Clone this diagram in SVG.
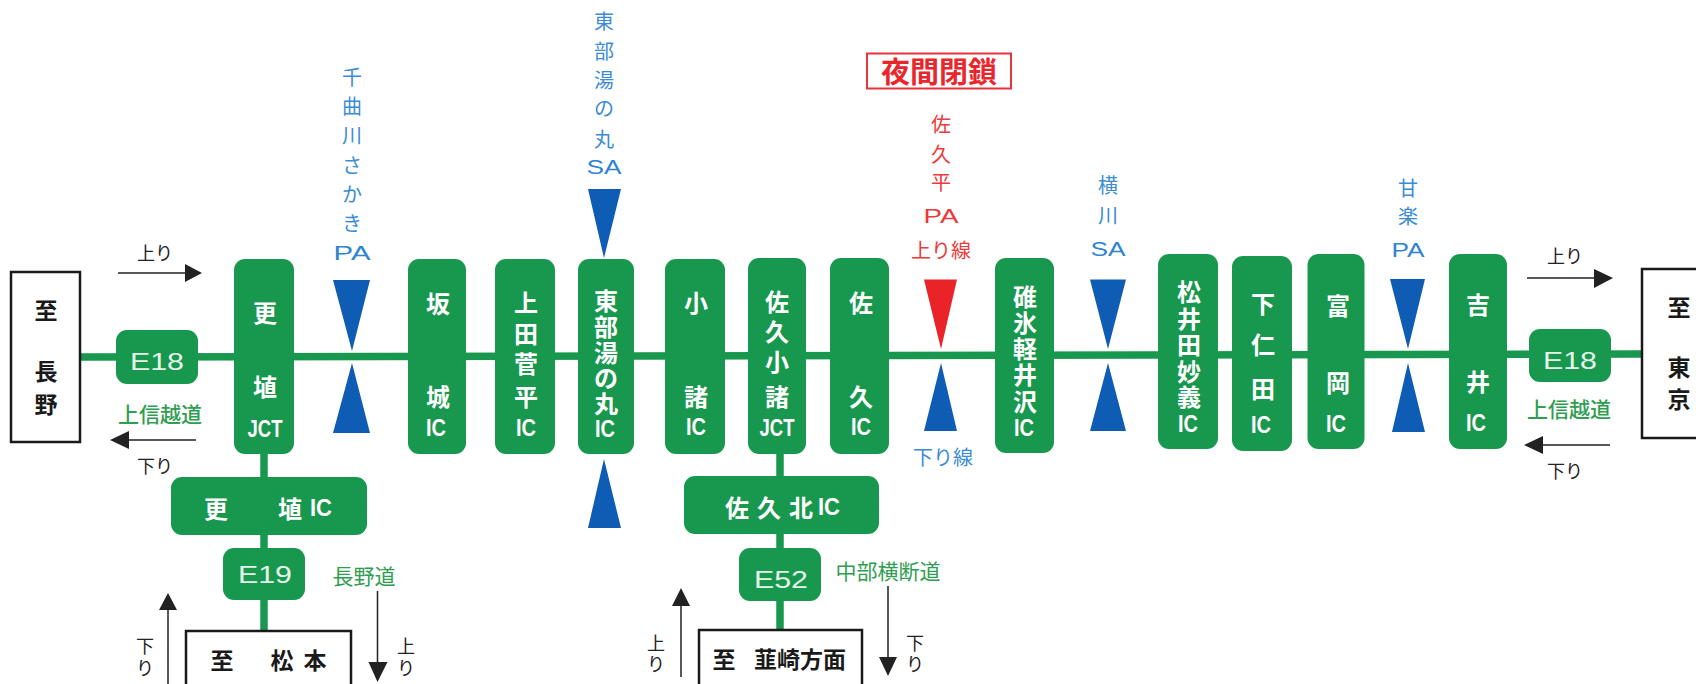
<svg xmlns="http://www.w3.org/2000/svg" width="1696" height="684" viewBox="0 0 1696 684">
<style>
text{font-family:"Noto Sans CJK JP","Liberation Sans",sans-serif;text-anchor:middle;dominant-baseline:central}
.n{fill:#18974e}
.t{fill:#fff;font-weight:700;font-size:24px}
.ic{fill:#fff;font-family:"Liberation Sans","Noto Sans CJK JP",sans-serif;font-size:24px;font-weight:700}
.e{fill:#e6f5ea;font-family:"Liberation Sans",sans-serif;font-size:24px}
.road{stroke:#18974e;stroke-width:7.500;fill:none}
.box{fill:#fff;stroke:#1a1a1a;stroke-width:2.500}
.k{fill:#1a1a1a;font-size:23px;font-weight:700}
.a{stroke:#222;stroke-width:1.500;fill:none}
.h{fill:#222}
.s{fill:#222;font-size:18px}
.g{fill:#2f9e50;font-size:21px}
.b{fill:#3a8cd6;font-size:20px}
.r{fill:#ea3a3a;font-size:20px}
.pa{font-family:"Liberation Sans",sans-serif;font-size:20px}
.tb{fill:#0f5cb5}
.tr{fill:#ea2328}
</style>
<g id="connectors">
<path class="road" d="M80 357L1642 354"/>
<path class="road" d="M264 454V631"/>
<path class="road" d="M780 454V630"/>
<path class="a" d="M118 273H188M196 440H126M168 684V607M377.500 591V666M1527 278H1597M1610 445H1540M681 677V603M888 586V660"/>
<path class="h" d="M202 273L185 264V282ZM110 440L129 431V449ZM168 593L159 610H177ZM377.500 682L368.500 662H387.500ZM1613 278L1594 269V288ZM1524 445L1543 436V454ZM681 588L672 606H690ZM888 676L879 657H897Z"/>
</g>
<g id="to-nagano"><rect class="box" x="11" y="272" width="69" height="170"/><text class="k" x="46" y="309">至</text><text class="k" x="46" y="370">長</text><text class="k" x="46" y="403">野</text></g>
<g id="to-tokyo"><rect class="box" x="1642" y="269" width="60" height="169"/><text class="k" x="1679" y="306">至</text><text class="k" x="1679" y="366">東</text><text class="k" x="1679" y="398">京</text></g>
<g id="to-matsumoto"><rect class="box" x="186" y="631" width="165" height="60"/><text class="k" x="222" y="659">至</text><text class="k" x="282" y="659">松</text><text class="k" x="315" y="659">本</text></g>
<g id="to-nirasaki"><rect class="box" x="699" y="630" width="163" height="60"/><text class="k" x="724" y="658">至</text><text class="k" x="800" y="658">韮崎方面</text></g>
<g id="e18-west"><rect class="n" x="116" y="330" width="82" height="54" rx="11"/><text class="e" x="157" y="361" textLength="54" lengthAdjust="spacingAndGlyphs">E18</text></g>
<g id="e18-east"><rect class="n" x="1529" y="329" width="82" height="53" rx="11"/><text class="e" x="1570" y="360" textLength="54" lengthAdjust="spacingAndGlyphs">E18</text></g>
<g id="e19"><rect class="n" x="223" y="548" width="82" height="52" rx="11"/><text class="e" x="265" y="574" textLength="54" lengthAdjust="spacingAndGlyphs">E19</text></g>
<g id="e52"><rect class="n" x="739" y="548" width="82" height="53" rx="11"/><text class="e" x="781" y="579" textLength="54" lengthAdjust="spacingAndGlyphs">E52</text></g>
<g id="koshoku-jct"><rect class="n" x="234" y="259" width="60" height="195" rx="11"/><text class="t" x="265" y="311">更</text><text class="t" x="265" y="385">埴</text><text class="ic" x="265" y="428" textLength="35" lengthAdjust="spacingAndGlyphs">JCT</text></g>
<g id="sakaki-ic"><rect class="n" x="408" y="259" width="58" height="195" rx="11"/><text class="t" x="438" y="302">坂</text><text class="t" x="438" y="395">城</text><text class="ic" x="436" y="427" textLength="20" lengthAdjust="spacingAndGlyphs">IC</text></g>
<g id="ueda-ic"><rect class="n" x="495" y="259" width="60" height="195" rx="11"/><text class="t" x="526" y="301">上</text><text class="t" x="526" y="332">田</text><text class="t" x="526" y="362">菅</text><text class="t" x="526" y="395">平</text><text class="ic" x="526" y="427" textLength="20" lengthAdjust="spacingAndGlyphs">IC</text></g>
<g id="tobu-ic"><rect class="n" x="578" y="259" width="56" height="195" rx="11"/><text class="t" x="606" y="299">東</text><text class="t" x="606" y="325">部</text><text class="t" x="606" y="351">湯</text><text class="t" x="606" y="376">の</text><text class="t" x="606" y="402">丸</text><text class="ic" x="605" y="428" textLength="20" lengthAdjust="spacingAndGlyphs">IC</text></g>
<g id="komoro-ic"><rect class="n" x="665" y="259" width="60" height="195" rx="11"/><text class="t" x="696" y="301">小</text><text class="t" x="696" y="395">諸</text><text class="ic" x="696" y="426" textLength="20" lengthAdjust="spacingAndGlyphs">IC</text></g>
<g id="sakukomoro-jct"><rect class="n" x="748" y="258" width="58" height="196" rx="11"/><text class="t" x="777" y="300">佐</text><text class="t" x="777" y="330">久</text><text class="t" x="777" y="360">小</text><text class="t" x="777" y="395">諸</text><text class="ic" x="777" y="427" textLength="35" lengthAdjust="spacingAndGlyphs">JCT</text></g>
<g id="saku-ic"><rect class="n" x="830" y="258" width="59" height="196" rx="11"/><text class="t" x="861" y="301">佐</text><text class="t" x="861" y="395">久</text><text class="ic" x="861" y="426" textLength="20" lengthAdjust="spacingAndGlyphs">IC</text></g>
<g id="usui-ic"><rect class="n" x="995" y="258" width="59" height="195" rx="11"/><text class="t" x="1025" y="295">碓</text><text class="t" x="1025" y="321">氷</text><text class="t" x="1025" y="347">軽</text><text class="t" x="1025" y="373">井</text><text class="t" x="1025" y="400">沢</text><text class="ic" x="1024" y="427" textLength="20" lengthAdjust="spacingAndGlyphs">IC</text></g>
<g id="myogi-ic"><rect class="n" x="1158" y="254" width="60" height="195" rx="11"/><text class="t" x="1189" y="290">松</text><text class="t" x="1189" y="317">井</text><text class="t" x="1189" y="343">田</text><text class="t" x="1189" y="370">妙</text><text class="t" x="1189" y="395">義</text><text class="ic" x="1188" y="423" textLength="20" lengthAdjust="spacingAndGlyphs">IC</text></g>
<g id="shimonita-ic"><rect class="n" x="1232" y="256" width="60" height="195" rx="11"/><text class="t" x="1263" y="302">下</text><text class="t" x="1263" y="343">仁</text><text class="t" x="1263" y="387">田</text><text class="ic" x="1261" y="424" textLength="20" lengthAdjust="spacingAndGlyphs">IC</text></g>
<g id="tomioka-ic"><rect class="n" x="1307.500" y="254" width="57" height="195" rx="11"/><text class="t" x="1338" y="304">富</text><text class="t" x="1338" y="381">岡</text><text class="ic" x="1336" y="423" textLength="20" lengthAdjust="spacingAndGlyphs">IC</text></g>
<g id="yoshii-ic"><rect class="n" x="1449" y="254" width="58" height="195" rx="11"/><text class="t" x="1478" y="303">吉</text><text class="t" x="1478" y="380">井</text><text class="ic" x="1476" y="422" textLength="20" lengthAdjust="spacingAndGlyphs">IC</text></g>
<g id="koshoku-ic"><rect class="n" x="171" y="477" width="196" height="58" rx="11"/><text class="t" x="216" y="507">更</text><text class="t" x="290" y="507">埴</text><text class="ic" x="321" y="507" textLength="22" lengthAdjust="spacingAndGlyphs">IC</text></g>
<g id="sakukita-ic"><rect class="n" x="684" y="476" width="195" height="58" rx="11"/><text class="t" x="737" y="506">佐</text><text class="t" x="769" y="506">久</text><text class="t" x="801" y="506">北</text><text class="ic" x="829" y="506" textLength="22" lengthAdjust="spacingAndGlyphs">IC</text></g>
<g id="chikuma-pa"><path class="tb" d="M333 280H370L352 351ZM333 433H370L352 363Z"/><text class="b" x="352" y="76">千</text><text class="b" x="352" y="105">曲</text><text class="b" x="352" y="134">川</text><text class="b" x="352" y="164">さ</text><text class="b" x="352" y="193">か</text><text class="b" x="352" y="222">き</text><text class="pa" x="352" y="253" textLength="37" lengthAdjust="spacingAndGlyphs" style="fill:#2f84d2">PA</text></g>
<g id="tobu-sa"><path class="tb" d="M588 189H621L604 258ZM588 528H621L604 459Z"/><text class="b" x="604" y="20">東</text><text class="b" x="604" y="50">部</text><text class="b" x="604" y="79">湯</text><text class="b" x="604" y="107">の</text><text class="b" x="604" y="138">丸</text><text class="pa" x="604" y="167" textLength="35" lengthAdjust="spacingAndGlyphs" style="fill:#2f84d2">SA</text></g>
<g id="sakudaira-pa"><path class="tr" d="M924 279.500H957L941 349Z"/><path class="tb" d="M924 431H957L941 363Z"/><text class="r" x="941" y="123">佐</text><text class="r" x="941" y="153">久</text><text class="r" x="941" y="181">平</text><text class="pa" x="941" y="216" textLength="35" lengthAdjust="spacingAndGlyphs" style="fill:#ea3a3a">PA</text><text class="r" x="941" y="249" font-size="19">上り線</text><text class="b" x="943" y="456" font-size="19">下り線</text></g>
<g id="yokokawa-sa"><path class="tb" d="M1090 279.500H1126L1108 349ZM1090 431H1126L1108 363Z"/><text class="b" x="1108" y="184">横</text><text class="b" x="1108" y="214">川</text><text class="pa" x="1108" y="249" textLength="35" lengthAdjust="spacingAndGlyphs" style="fill:#2f84d2">SA</text></g>
<g id="kanra-pa"><path class="tb" d="M1390 279H1425L1408 349ZM1392 432H1425L1408 363Z"/><text class="b" x="1408" y="187">甘</text><text class="b" x="1408" y="215">楽</text><text class="pa" x="1408" y="250" textLength="33" lengthAdjust="spacingAndGlyphs" style="fill:#2f84d2">PA</text></g>
<g id="night-closure"><rect x="867" y="53.500" width="144" height="35" fill="#fff" stroke="#e8333a" stroke-width="2"/><text x="939" y="70" fill="#e8262c" font-size="29" font-weight="700">夜間閉鎖</text></g>
<g id="labels">
<text class="g" x="160" y="413" font-weight="500" font-size="23">上信越道</text>
<text class="g" x="1569" y="408" font-weight="500" font-size="23">上信越道</text>
<text class="g" x="364" y="575">長野道</text>
<text class="g" x="888" y="570">中部横断道</text>
<text class="s" x="155" y="252">上り</text>
<text class="s" x="155" y="465">下り</text>
<text class="s" x="1565" y="255">上り</text>
<text class="s" x="1565" y="470">下り</text>
<text class="s" x="145" y="645">下</text><text class="s" x="145" y="667">り</text>
<text class="s" x="406" y="645">上</text><text class="s" x="406" y="667">り</text>
<text class="s" x="656" y="642">上</text><text class="s" x="656" y="663">り</text>
<text class="s" x="915" y="642">下</text><text class="s" x="915" y="663">り</text>
</g>
</svg>
